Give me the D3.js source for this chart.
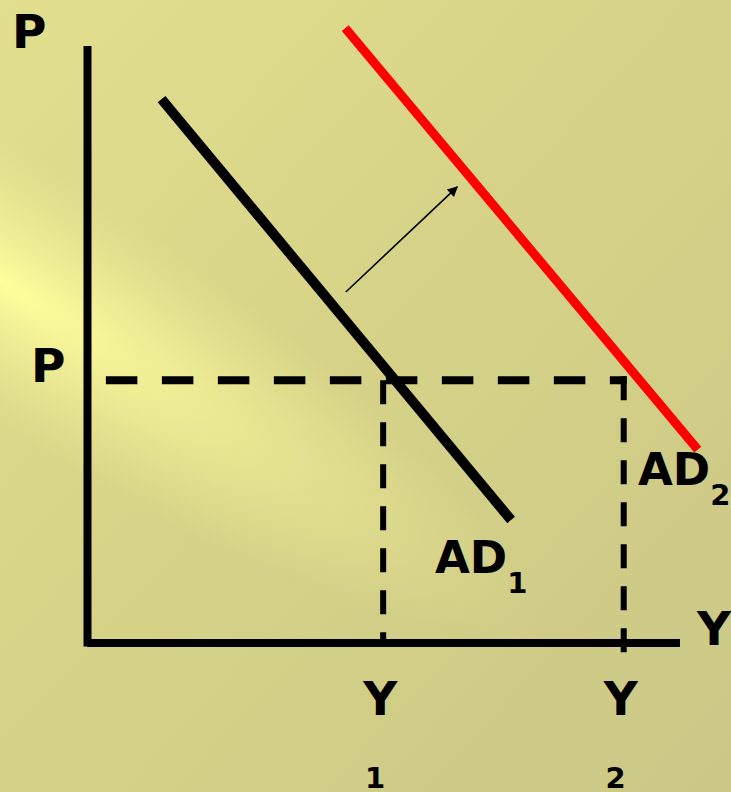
<!DOCTYPE html>
<html>
<head>
<meta charset="utf-8">
<script src="https://cdn.jsdelivr.net/npm/d3@7"></script>
<style>
  html, body { margin: 0; padding: 0; background: #cfcb89; }
  svg { display: block; }
  text { font-family: "DejaVu Sans", Verdana, sans-serif; font-weight: bold; fill: #000; }
</style>
</head>
<body>
<div id="vis"></div>
<script>
var w = 731, h = 792;

// curves in chart units (0..100 on both axes)
var ad1 = [[12.5, 91.1], [71.5, 20.6]],
    ad2 = [[43.5, 103.0], [103.0, 32.4]],
    shift = [[43.6, 58.8], [62.4, 76.4]];   // arrow AD1 -> AD2

var priceLevel = 44.0,
    outputs = [49.9, 90.5],
    outputLabels = ["1", "2"],
    curveLabels = ["1", "2"];

var x = d3.scaleLinear().domain([0, 100]).range([87.5, 680]),
    y = d3.scaleLinear().domain([0, 100]).range([643, 46]);

var svg = d3.select("#vis").append("svg")
    .attr("width", w)
    .attr("height", h);

// background: khaki with a light streak coming in from the left
var defs = svg.append("defs");
var lg = defs.append("linearGradient")
    .attr("id", "bg")
    .attr("x1", 0).attr("y1", 0).attr("x2", 1).attr("y2", 1);
lg.append("stop").attr("offset", 0).attr("stop-color", "#e2e08e");
lg.append("stop").attr("offset", 0.45).attr("stop-color", "#d6d388");
lg.append("stop").attr("offset", 1).attr("stop-color", "#cbc787");

var rg = defs.append("radialGradient").attr("id", "glow");
rg.append("stop").attr("offset", 0).attr("stop-color", "#ffff9c").attr("stop-opacity", 1);
rg.append("stop").attr("offset", 0.3).attr("stop-color", "#f8f699").attr("stop-opacity", 0.75);
rg.append("stop").attr("offset", 1).attr("stop-color", "#eeec94").attr("stop-opacity", 0);

svg.append("rect")
    .attr("width", w).attr("height", h)
    .attr("fill", "url(#bg)");

svg.append("ellipse")
    .attr("transform", "translate(0,280) rotate(33)")
    .attr("rx", 620).attr("ry", 125)
    .attr("fill", "url(#glow)");

defs.append("marker")
    .attr("id", "head")
    .attr("viewBox", "0 0 10 10")
    .attr("refX", 9).attr("refY", 5)
    .attr("markerWidth", 8).attr("markerHeight", 6.5)
    .attr("markerUnits", "strokeWidth")
    .attr("orient", "auto")
  .append("path")
    .attr("d", "M0,0L10,5L0,10z")
    .attr("fill", "#000");

var line = d3.line()
    .x(function(d) { return x(d[0]); })
    .y(function(d) { return y(d[1]); });

// dashed guides
svg.append("line")
    .attr("x1", x(3.1)).attr("x2", x(outputs[1]) + 3)
    .attr("y1", y(priceLevel)).attr("y2", y(priceLevel))
    .attr("stroke", "#000").attr("stroke-width", 8)
    .attr("stroke-dasharray", "31.5,24.5");

svg.selectAll(".guide")
    .data(outputs)
  .enter().append("line")
    .attr("class", "guide")
    .attr("x1", function(d) { return x(d); })
    .attr("x2", function(d) { return x(d); })
    .attr("y1", function(d, i) { return y(priceLevel) - (i ? 4 : 0); })
    .attr("y2", function(d, i) { return i ? y(0) + 13 : y(0); })
    .attr("stroke", "#000").attr("stroke-width", 6)
    .attr("stroke-dasharray", "24,18");

// axes
svg.append("path")
    .attr("d", "M" + x(0) + "," + y(100) + "V" + (y(0) + 3.5) + "M" + (x(0) - 0.5) + "," + y(0) + "H" + x(100))
    .attr("fill", "none").attr("stroke", "#000").attr("stroke-width", 8);

// demand curves
svg.append("path").datum(ad1)
    .attr("d", line)
    .attr("stroke", "#000").attr("stroke-width", 10).attr("fill", "none");

svg.append("path").datum(ad2)
    .attr("d", line)
    .attr("stroke", "#ff0000").attr("stroke-width", 9).attr("fill", "none");

svg.append("path").datum(shift)
    .attr("d", line)
    .attr("stroke", "#000").attr("stroke-width", 1.6).attr("fill", "none")
    .attr("marker-end", "url(#head)");

// labels
svg.append("text").attr("x", 12).attr("y", 48).attr("font-size", 47).text("P");
svg.append("text").attr("x", 31).attr("y", 382).attr("font-size", 47).text("P");
svg.append("text").attr("x", 714).attr("y", 645).attr("font-size", 47)
    .attr("text-anchor", "middle").text("Y");

svg.selectAll(".ylab")
    .data(outputs)
  .enter().append("text")
    .attr("class", "ylab")
    .attr("x", function(d) { return x(d) - 3; })
    .attr("y", 715)
    .attr("font-size", 47)
    .attr("text-anchor", "middle")
    .text("Y");

svg.selectAll(".ysub")
    .data(outputs)
  .enter().append("text")
    .attr("class", "ysub")
    .attr("x", function(d) { return x(d) - 8; })
    .attr("y", 788)
    .attr("font-size", 29)
    .attr("text-anchor", "middle")
    .text(function(d, i) { return outputLabels[i]; });

var adPos = [[435, 573], [638, 485]];
svg.selectAll(".ad")
    .data(curveLabels)
  .enter().append("text")
    .attr("class", "ad")
    .attr("x", function(d, i) { return adPos[i][0]; })
    .attr("y", function(d, i) { return adPos[i][1]; })
    .attr("font-size", 45)
    .text("AD")
  .append("tspan")
    .attr("dy", 20)
    .attr("font-size", 29)
    .text(function(d) { return d; });
</script>
</body>
</html>
